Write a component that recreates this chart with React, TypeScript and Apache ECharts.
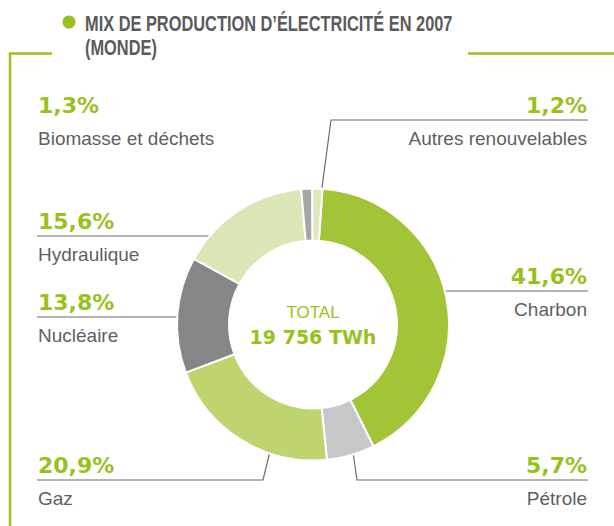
import React, { useEffect, useRef } from 'react';
import * as echarts from 'echarts';

// ---------- data ----------
const categories = [
  'Charbon',
  'Pétrole',
  'Gaz',
  'Nucléaire',
  'Hydraulique',
  'Biomasse et déchets',
  'Autres renouvelables',
];
const shares = [41.6, 5.7, 20.9, 13.8, 15.6, 1.3, 1.2];
const totalCaption = 'TOTAL';
const totalValue = '19 756 TWh';
const titleLines = ['MIX DE PRODUCTION D\u2019ÉLECTRICITÉ EN 2007', '(MONDE)'];

// ---------- styles / layout ----------
const sliceColors = ['#a3c437', '#c6c7c9', '#bdd46f', '#858688', '#dae6b5', '#a5a6a8', '#dde8bb'];
const GREEN = '#98c11d';
const GREY_TEXT = '#5e5f61';
const LINE_GREY = '#6a6b6d';
const CX = 313;
const CY = 324.5;
const R_IN = 84;
const R_OUT = 136;
const R_ANCHOR = 112;
const START_ANGLE = 86;
const LEFT_X = 38;
const RIGHT_X = 587;

type LL = { side: 'left' | 'right'; lineY: number; mode: 'h' | 'd' | 'none'; elbowX?: number; frac?: number };
const labelLayouts: LL[] = [
  { side: 'right', lineY: 291, mode: 'h' },
  { side: 'right', lineY: 480, mode: 'd', elbowX: 357, frac: 0.35 },
  { side: 'left', lineY: 480, mode: 'd', elbowX: 263, frac: 0.34 },
  { side: 'left', lineY: 317, mode: 'h' },
  { side: 'left', lineY: 236, mode: 'h' },
  { side: 'left', lineY: 120, mode: 'none' },
  { side: 'right', lineY: 120, mode: 'd', elbowX: 331, frac: 0.75 },
];

const fmtPct = (v: number) => v.toFixed(1).replace('.', ',') + '%';

export default function App() {
  const ref = useRef<HTMLDivElement>(null);

  useEffect(() => {
    if (!ref.current) return;
    const chart = echarts.init(ref.current, undefined, { renderer: 'svg' });
    const total = shares.reduce((a, b) => a + b, 0);
    const cum: number[] = [];
    let acc = 0;
    shares.forEach((v) => {
      cum.push(acc);
      acc += v;
    });
    const offset = 90 - START_ANGLE;

    const titleStyle = { fontFamily: 'Liberation Sans', fontWeight: 'bold', fontSize: 22, fill: '#5a5b5d', verticalAlign: 'middle' };

    const option: any = {
      animation: false,
      backgroundColor: '#ffffff',
      graphic: [
        { type: 'circle', shape: { cx: 69, cy: 22, r: 6.5 }, style: { fill: GREEN } },
        { type: 'text', x: 85, y: 23, scaleX: 0.745, style: { ...titleStyle, text: titleLines[0] } },
        { type: 'text', x: 85, y: 47, scaleX: 0.745, style: { ...titleStyle, text: titleLines[1] } },
        { type: 'polyline', shape: { points: [[52, 53.5], [10, 53.5], [10, 530]] }, style: { stroke: GREEN, lineWidth: 2.5, fill: 'none' } },
        { type: 'line', shape: { x1: 468, y1: 53.5, x2: 620, y2: 53.5 }, style: { stroke: GREEN, lineWidth: 2.5 } },
        {
          type: 'text', x: CX, y: 312,
          style: { text: totalCaption, fontFamily: 'Liberation Sans', fontSize: 17, fill: GREEN, align: 'center', verticalAlign: 'middle' },
        },
        {
          type: 'text', x: CX, y: 337,
          style: { text: totalValue, fontFamily: 'DejaVu Sans', fontWeight: 'bold', fontSize: 19, fill: GREEN, align: 'center', verticalAlign: 'middle' },
        },
      ],
      series: [
        {
          type: 'pie',
          center: [CX, CY],
          radius: [R_IN, R_OUT],
          startAngle: START_ANGLE,
          clockwise: true,
          avoidLabelOverlap: false,
          silent: true,
          emphasis: { disabled: true },
          itemStyle: { borderColor: '#ffffff', borderWidth: 2 },
          label: {
            show: true,
            position: 'outside',
            formatter: (p: any) => `{p|${fmtPct(shares[p.dataIndex])}}\n{n|${p.name}}`,
            rich: {
              p: { fontFamily: 'DejaVu Sans', fontWeight: 'bold', fontSize: 22, color: GREEN, lineHeight: 30 },
              n: { fontFamily: 'Liberation Sans', fontSize: 19, color: GREY_TEXT, lineHeight: 36 },
            },
          },
          labelLine: { show: true, lineStyle: { color: LINE_GREY, width: 1.2 } },
          labelLayout: (params: any) => {
            const i = params.dataIndex;
            const L = labelLayouts[i];
            const x = L.side === 'left' ? LEFT_X : RIGHT_X;
            const endX = L.side === 'left' ? LEFT_X - 1 : RIGHT_X + 1;
            const res: any = { x, y: L.lineY - 30, align: L.side, verticalAlign: 'top' };
            if (L.mode === 'h') {
              const dy = L.lineY - CY;
              const dx = Math.sqrt(R_ANCHOR * R_ANCHOR - dy * dy);
              const sx = L.side === 'left' ? CX - dx : CX + dx;
              res.labelLinePoints = [[sx, L.lineY], [sx, L.lineY], [endX, L.lineY]];
            } else if (L.mode === 'd') {
              const ang = ((offset + ((cum[i] + (L.frac as number) * shares[i]) / total) * 360) * Math.PI) / 180;
              const sx = CX + R_ANCHOR * Math.sin(ang);
              const sy = CY - R_ANCHOR * Math.cos(ang);
              res.labelLinePoints = [[sx, sy], [L.elbowX, L.lineY], [endX, L.lineY]];
            }
            return res;
          },
          data: categories.map((name, i) => ({
            name,
            value: shares[i],
            itemStyle: { color: sliceColors[i] },
            labelLine: { show: labelLayouts[i].mode !== 'none' },
          })),
        },
      ],
    };
    chart.setOption(option);
    return () => chart.dispose();
  }, []);

  return <div ref={ref} style={{ position: 'fixed', left: 0, top: 0, width: 614, height: 526 }} />;
}
